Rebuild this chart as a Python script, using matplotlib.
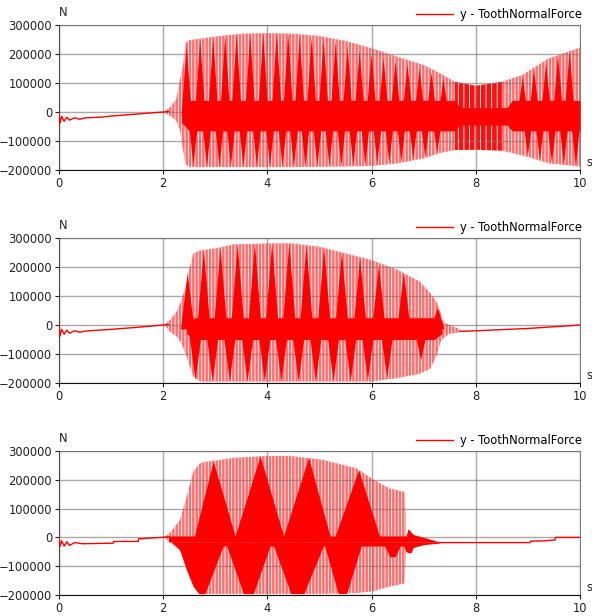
import numpy as np
import matplotlib
matplotlib.use('Agg')
import matplotlib.pyplot as plt

plt.rcParams['hatch.linewidth'] = 0.6
plt.rcParams['font.family'] = ['DejaVu Sans']

# ---------------- panel 1 ----------------
quiet1_t = [0, 0.02, 0.05, 0.1, 0.15, 0.2, 0.3, 0.4, 0.5, 0.8, 1.0, 1.5, 2.0, 2.1]
quiet1_v = [0, -38000, -15000, -32000, -18000, -28000, -20000, -25000, -20000, -18000, -14000, -7000, 0, 2000]
env1_t = [2.05, 2.15, 2.25, 2.32, 2.38, 2.43, 2.5, 3.0, 3.5, 4.0, 4.5, 5.0, 5.5, 6.0, 6.5, 7.0,
          7.3, 7.6, 8.0, 8.5, 8.9, 9.0, 9.4, 10.0]
env1_up = [5000, 20000, 45000, 110000, 160000, 238000, 248000, 260000, 270000, 272000, 270000, 262000,
           245000, 220000, 190000, 162000, 135000, 104000, 90000, 104000, 128000, 140000, 185000, 222000]
env1_lo = [-5000, -15000, -30000, -60000, -130000, -180000, -190000, -190000, -190000, -190000, -190000,
           -189000, -188000, -186000, -177000, -160000, -142000, -131000, -130000, -133000, -150000,
           -155000, -177000, -188000]
dense1 = (7.55, 8.75)   # stretch where the signal fills the whole envelope
core1_t = [2.35, 2.5, 7.6, 7.7, 8.6, 8.7, 10.0]
core1_hi = [15000, 40000, 40000, 15000, 15000, 40000, 40000]
core1_lo = [-35000, -65000, -65000, -45000, -45000, -65000, -65000]
up1_t = [2.45, 2.71, 2.96, 3.19, 3.41, 3.67, 3.92, 4.18, 4.40, 4.62, 4.85, 5.08, 5.31, 5.54, 5.77,
         6.0, 6.23, 6.46, 6.69, 6.92, 7.15, 7.38, 8.9, 9.12, 9.35, 9.58, 9.8]
up1_v = [230000, 250000, 255000, 262000, 268000, 270000, 272000, 272000, 270000, 262000, 255000,
         250000, 240000, 225000, 210000, 200000, 185000, 175000, 165000, 150000, 135000, 115000,
         120000, 145000, 170000, 195000, 210000]
dn1_t = [2.58, 2.84, 3.08, 3.30, 3.54, 3.80, 4.05, 4.29, 4.51, 4.73, 4.96, 5.19, 5.42, 5.65, 5.88,
         6.11, 6.34, 6.57, 6.80, 7.03, 7.26, 9.0, 9.23, 9.46, 9.69, 9.92]
dn1_v = [-185000, -188000, -188000, -188000, -188000, -188000, -188000, -188000, -188000, -188000,
         -187000, -186000, -185000, -184000, -182000, -180000, -175000, -170000, -162000, -155000,
         -140000, -150000, -165000, -175000, -182000, -186000]

# ---------------- panel 2 ----------------
quiet2_t = [0, 0.02, 0.05, 0.1, 0.15, 0.2, 0.3, 0.4, 0.5, 1.0, 1.5, 2.0, 2.1]
quiet2_v = [0, -38000, -15000, -32000, -18000, -28000, -20000, -25000, -21000, -15000, -8000, 0, 2000]
env2_t = [2.05, 2.13, 2.26, 2.35, 2.45, 2.51, 2.58, 2.71, 3.03, 3.35, 4.0, 4.43, 5.0, 5.5, 6.0,
          6.5, 6.93, 7.13, 7.25, 7.32, 7.38, 7.5, 7.7]
env2_up = [5000, 17000, 46000, 86000, 144000, 201000, 247000, 257000, 265000, 278000, 281000, 282000,
           270000, 247000, 224000, 190000, 149000, 109000, 79000, 45000, 10000, 0, -15000]
env2_lo = [-5000, -23000, -40000, -63000, -109000, -144000, -178000, -195000, -195000, -195000,
           -195000, -195000, -195000, -195000, -195000, -183000, -168000, -150000, -105000, -60000,
           -45000, -30000, -25000]
core2_t = [2.45, 2.6, 7.2, 7.35]
core2_hi = [10000, 25000, 25000, 5000]
core2_lo = [-30000, -50000, -50000, -30000]
up2_t = [2.47, 2.78, 3.10, 3.43, 3.76, 4.09, 4.42, 4.75, 5.09, 5.43, 5.78, 6.14, 6.62, 7.27]
up2_v = [180000, 255000, 265000, 278000, 281000, 281000, 282000, 275000, 265000, 250000, 230000,
         205000, 180000, 60000]
dn2_t = [2.62, 2.95, 3.28, 3.62, 3.95, 4.27, 4.60, 4.93, 5.27, 5.60, 5.93, 6.30, 6.95]
dn2_v = [-190000, -195000, -195000, -195000, -195000, -195000, -195000, -195000, -195000, -195000,
         -190000, -183000, -120000]
tail2_t = [7.7, 8.0, 8.5, 9.0, 9.5, 10.0]
tail2_v = [-22000, -20000, -16000, -12000, -6000, 0]

# ---------------- panel 3 ----------------
quiet3_t = [0, 0.02, 0.05, 0.1, 0.15, 0.2, 0.3, 0.45, 1.04, 1.05, 1.52, 1.53, 1.97, 2.1]
quiet3_v = [0, -32000, -12000, -30000, -15000, -28000, -18000, -22000, -20000, -14000, -14000,
            -5000, 0, 2000]
env3_t = [2.05, 2.15, 2.32, 2.45, 2.58, 2.71, 2.8, 3.35, 3.99, 4.43, 5.07, 5.71, 6.0, 6.34, 6.63, 6.66]
env3_up = [5000, 20000, 60000, 140000, 230000, 258000, 262000, 276000, 283000, 283000, 269000,
           240000, 205000, 170000, 158000, 60000]
env3_lo = [-5000, -20000, -44000, -113000, -171000, -194000, -196000, -196000, -196000, -196000,
           -196000, -193000, -188000, -171000, -160000, -60000]
core3u_t = [2.1, 2.6, 2.96, 3.38, 3.86, 4.31, 4.79, 5.2, 5.3, 5.75, 6.15, 6.66, 6.7, 6.8,
            7.0, 7.3]
core3u_v = [5000, 5000, 265000, 5000, 283000, 5000, 278000, 5000, 5000, 234000, 5000, 5000,
            30000, 10000, 0, -15000]
core3l_t = [2.1, 2.32, 2.45, 2.58, 2.68, 2.8, 3.15, 3.22, 3.54, 3.73, 4.05, 4.12, 4.45, 4.7, 5.07,
            5.1, 5.36, 5.52, 5.8, 6.25, 6.35, 6.45, 6.55, 6.62, 6.66, 6.75, 6.8, 7.0, 7.3]
core3l_v = [-5000, -44000, -113000, -171000, -195000, -195000, -30000, -30000, -195000, -195000,
            -30000, -30000, -195000, -195000, -30000, -30000, -195000, -195000, -30000, -30000,
            -67000, -67000, -30000, -30000, -50000, -55000, -35000, -25000, -20000]
tail3_t = [7.3, 9.04, 9.05, 9.3, 9.52, 9.53, 10.0]
tail3_v = [-18000, -18000, -13000, -12000, -9000, 0, 0]

yticks = [-200000, -100000, 0, 100000, 200000, 300000]
xticks = [0, 2, 4, 6, 8, 10]
label = 'y - ToothNormalForce'
PINK = '#ff7070'
RED = '#ff0000'
MID = -15000


def spikes(ax, ts, vs, w):
    for t, v in zip(ts, vs):
        ax.fill([t - w, t, t + w], [MID, v, MID], color=RED, lw=0, zorder=3)


def style(ax):
    ax.set_xlim(0, 10)
    ax.set_ylim(-200000, 300000)
    ax.set_xticks(xticks)
    ax.set_yticks(yticks)
    ax.tick_params(direction='out', length=3, width=0.8, labelsize=8.3, colors='#222222', pad=2)
    ax.grid(True, color='#707070', alpha=0.6, lw=1)
    ax.set_axisbelow(False)
    for sp in ('left', 'bottom'):
        ax.spines[sp].set_color('#111111')
    for sp in ('top', 'right'):
        ax.spines[sp].set_color('#808080')
    ax.text(0.0, 1.06, 'N', transform=ax.transAxes, fontsize=8.3, color='#222222')
    ax.text(1.012, 0.03, 's', transform=ax.transAxes, fontsize=8.3, color='#222222')
    ax.legend(loc='lower right', bbox_to_anchor=(1.003, 1.025), frameon=False, fontsize=8.3,
              handlelength=3.2, handletextpad=0.6, borderaxespad=0, borderpad=0)


def envelope(ax, t, up, lo, face=PINK, hatch='|||||', where=None):
    ax.fill_between(t, lo, up, where=where, facecolor=face, edgecolor='white', hatch=hatch,
                    lw=0, zorder=2)


fig = plt.figure(figsize=(5.92, 6.16), dpi=100)
L, W = 59 / 592, 521 / 592
ax1 = fig.add_axes([L, 1 - 170 / 616, W, 145 / 616])
ax2 = fig.add_axes([L, 1 - 383 / 616, W, 145 / 616])
ax3 = fig.add_axes([L, 1 - 595 / 616, W, 144 / 616])

# panel 1
ax1.plot(quiet1_t, quiet1_v, color=RED, lw=1, label=label, zorder=3)
envelope(ax1, env1_t, env1_up, env1_lo)
t1 = np.array(env1_t)
envelope(ax1, env1_t, env1_up, env1_lo, face='#ff1010', hatch='|||',
         where=(t1 >= dense1[0]) & (t1 <= dense1[1]))
ax1.fill_between(core1_t, core1_lo, core1_hi, color=RED, lw=0, zorder=3)
spikes(ax1, up1_t, up1_v, 0.1)
spikes(ax1, dn1_t, dn1_v, 0.1)
style(ax1)

# panel 2
ax2.plot(quiet2_t, quiet2_v, color=RED, lw=1, label=label, zorder=3)
envelope(ax2, env2_t, env2_up, env2_lo)
ax2.fill_between(core2_t, core2_lo, core2_hi, color=RED, lw=0, zorder=3)
spikes(ax2, up2_t, up2_v, 0.13)
spikes(ax2, dn2_t, dn2_v, 0.13)
ax2.plot(tail2_t, tail2_v, color=RED, lw=1, zorder=3)
style(ax2)

# panel 3
ax3.plot(quiet3_t, quiet3_v, color=RED, lw=1, label=label, zorder=3)
envelope(ax3, env3_t, env3_up, env3_lo)
ax3.fill_between(core3u_t, core3u_v, MID, color=RED, lw=0, zorder=3)
ax3.fill_between(core3l_t, core3l_v, MID, color=RED, lw=0, zorder=3)
ax3.plot(tail3_t, tail3_v, color=RED, lw=1, zorder=3)
style(ax3)

fig.savefig('out.png', dpi=100)
